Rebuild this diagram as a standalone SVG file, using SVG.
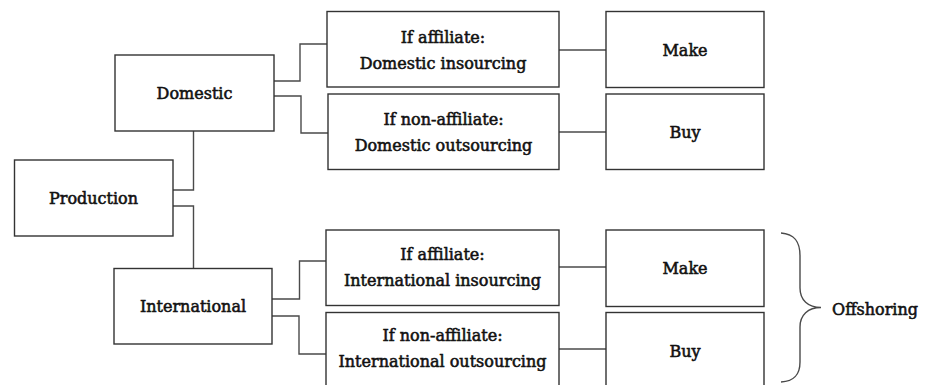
<svg xmlns="http://www.w3.org/2000/svg" width="927" height="385" viewBox="0 0 927 385">
<style>
.box{fill:#fff;stroke:#333;stroke-width:1.4}
.con{fill:none;stroke:#4a4a4a;stroke-width:1.4}
.t{font-family:'DejaVu Serif',serif;font-size:16px;fill:#111;stroke:#111;stroke-width:0.55;text-anchor:middle}
</style>
<rect width="927" height="385" fill="#fff"/>
<g id="connectors">
<polyline class="con" points="193.5,131 193.5,190 173,190"/>
<polyline class="con" points="173,206 193.5,206 193.5,268"/>
<polyline class="con" points="274,81 300,81 300,44 327,44"/>
<polyline class="con" points="274,96 301,96 301,133 328,133"/>
<line class="con" x1="559" y1="50" x2="606" y2="50"/>
<line class="con" x1="559" y1="132" x2="606" y2="132"/>
<polyline class="con" points="272,299 299.5,299 299.5,261 326,261"/>
<polyline class="con" points="272,316 299,316 299,354 326,354"/>
<line class="con" x1="559" y1="267" x2="606" y2="267"/>
<line class="con" x1="559" y1="349" x2="606" y2="349"/>
</g>
<g id="production"><rect class="box" x="14.5" y="160" width="158.5" height="76"/><text class="t" x="93.5" y="204">Production</text></g>
<g id="domestic"><rect class="box" x="115" y="55" width="159" height="76"/><text class="t" x="194.5" y="99">Domestic</text></g>
<g id="international"><rect class="box" x="114" y="268.5" width="158" height="75.5"/><text class="t" x="193" y="312">International</text></g>
<g id="dom-insourcing"><rect class="box" x="327" y="11.5" width="232" height="75.5"/><text class="t" x="443" y="43">If affiliate:</text><text class="t" x="443" y="68.5">Domestic insourcing</text></g>
<g id="dom-outsourcing"><rect class="box" x="328" y="94" width="231" height="75.5"/><text class="t" x="443.5" y="125">If non-affiliate:</text><text class="t" x="443.5" y="151">Domestic outsourcing</text></g>
<g id="dom-make"><rect class="box" x="606" y="11.5" width="158" height="76"/><text class="t" x="685" y="55.5">Make</text></g>
<g id="dom-buy"><rect class="box" x="606" y="94" width="158" height="75.5"/><text class="t" x="685" y="137.5">Buy</text></g>
<g id="int-insourcing"><rect class="box" x="326" y="230" width="233" height="75.5"/><text class="t" x="442.5" y="260">If affiliate:</text><text class="t" x="442.5" y="286">International insourcing</text></g>
<g id="int-outsourcing"><rect class="box" x="326" y="312.5" width="233" height="80"/><text class="t" x="442.5" y="341">If non-affiliate:</text><text class="t" x="442.5" y="367">International outsourcing</text></g>
<g id="int-make"><rect class="box" x="606" y="230" width="158" height="76.5"/><text class="t" x="685" y="274">Make</text></g>
<g id="int-buy"><rect class="box" x="606" y="312.5" width="158" height="80"/><text class="t" x="685" y="357">Buy</text></g>
<g id="offshoring">
<path class="con" d="M781,233 C795,234 800,242 800,256 L800,288 C800,300 808,307.5 821,307.5 C808,307.5 800,315 800,327 L800,362 C800,374 795,381 781,382"/>
<text class="t" x="875" y="315">Offshoring</text>
</g>
</svg>
